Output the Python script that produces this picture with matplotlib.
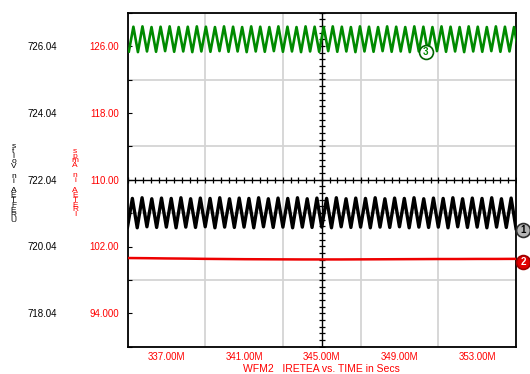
import matplotlib
matplotlib.use('Agg')
import matplotlib.pyplot as plt
import numpy as np

plt.rcParams['font.family'] = ['Liberation Sans', 'DejaVu Sans']

# ---------------- data ----------------
x_range = [335.0, 355.0]
x_ticks = [337, 341, 345, 349, 353]
x_tick_labels = ['337.00M', '341.00M', '345.00M', '349.00M', '353.00M']

volt_range = [717.04, 727.04]
volt_ticks = [718.04, 720.04, 722.04, 724.04, 726.04]
volt_labels = ['718.04', '720.04', '722.04', '724.04', '726.04']

amp_range = [90.0, 130.0]
amp_ticks = [94, 102, 110, 118, 126]
amp_labels = ['94.000', '102.00', '110.00', '118.00', '126.00']

# trace 1 (UREFTEA, volts): alternating trough / peak samples
black_values = [
    720.62, 721.48, 720.60, 721.50, 720.63, 721.47, 720.61, 721.49, 720.62, 721.48,
    720.60, 721.50, 720.62, 721.47, 720.61, 721.49, 720.63, 721.48, 720.60, 721.50,
    720.62, 721.47, 720.61, 721.49, 720.62, 721.48, 720.60, 721.50, 720.63, 721.47,
    720.61, 721.49, 720.62, 721.48, 720.60, 721.50, 720.62, 721.47, 720.61, 721.49,
    720.62, 721.48, 720.60, 721.50, 720.63, 721.47, 720.61, 721.49, 720.62, 721.48,
    720.60, 721.50, 720.62, 721.47, 720.61, 721.49, 720.63, 721.48, 720.60, 721.50,
    720.62, 721.47, 720.61, 721.49, 720.62, 721.48, 720.60, 721.50, 720.63, 721.47,
    720.61, 721.49, 720.62, 721.48, 720.60, 721.50, 720.62, 721.47, 720.61, 721.49,
    720.58]
black_t_span = [335.0, 355.0]

# trace 3 (volts): alternating trough / peak samples
green_values = [
    725.88, 726.62, 725.86, 726.63, 725.88, 726.61, 725.87, 726.62, 725.89, 726.63,
    725.87, 726.61, 725.88, 726.62, 725.86, 726.63, 725.88, 726.62, 725.87, 726.61,
    725.89, 726.63, 725.87, 726.62, 725.88, 726.61, 725.86, 726.63, 725.88, 726.62,
    725.87, 726.61, 725.89, 726.63, 725.87, 726.62, 725.88, 726.61, 725.86, 726.63,
    725.88, 726.62, 725.87, 726.61, 725.89, 726.63, 725.87, 726.62, 725.88, 726.61,
    725.86, 726.63, 725.88, 726.62, 725.87, 726.61, 725.89, 726.63, 725.87, 726.62,
    725.88, 726.61, 725.86, 726.63, 725.88, 726.62, 725.87, 726.61, 725.89, 726.63,
    725.87, 726.62, 725.88, 726.61, 725.86, 726.63, 725.88, 726.62, 725.87, 726.61,
    725.89, 726.63, 725.87, 726.62, 725.88, 726.61, 725.87]
green_t_span = [335.07, 355.13]

# trace 2 (IRETEA, amps)
red_values = [100.62, 100.60, 100.57, 100.55, 100.52, 100.50, 100.48, 100.47, 100.46, 100.45,
              100.45, 100.45, 100.46, 100.47, 100.48, 100.49, 100.50, 100.50, 100.51, 100.51,
              100.52]
red_t_span = [335.0, 355.0]

marker_labels = ['1', '2', '3']
marker_x = [355.36, 355.36, 350.36]
marker_y = [720.53, 719.59, 725.87]

title_text = 'WFM2   IRETEA vs. TIME in Secs'
left_label = 'UREFTEA in Volts'
mid_label = 'IRETEA in Amps'

# ---------------- figure ----------------
W, H = 530, 374
fig = plt.figure(figsize=(W / 100, H / 100), dpi=100)
ax = fig.add_axes([127.5 / W, 1 - 346.7 / H, (516 - 127.5) / W, (346.7 - 12.7) / H])
ax.set_xlim(*x_range)
ax.set_ylim(*volt_range)

grid_c = '#d4d4d4'
ax.set_xticks(np.arange(x_range[0], x_range[1] + 0.01, 2.0), minor=True)
ax.set_yticks(np.arange(volt_range[0], volt_range[1] + 0.01, 1.0), minor=True)
ax.grid(which='minor', color=grid_c, lw=1.3)
ax.grid(which='major', visible=False)
ax.set_axisbelow(True)

ax.set_xticks(x_ticks)
ax.set_xticklabels(x_tick_labels, color='red', fontsize=7)
ax.tick_params(axis='x', which='both', length=0, pad=4)

ax.set_yticks(volt_ticks)
ax.set_yticklabels(volt_labels, color='black', fontsize=7)
ax.tick_params(axis='y', which='both', direction='in', length=3, width=0.8, pad=50.5, color='black')

for s in ax.spines.values():
    s.set_color('black')
    s.set_linewidth(1.3)

# center crosshair with small ticks
xc = 345.0
yc = 722.04
ax.axvline(xc, color='black', lw=1.0, zorder=2)
ax.axhline(yc, color='black', lw=1.0, zorder=2)
ty = np.arange(volt_range[0], volt_range[1] + 0.001, 0.2)
tx = np.arange(x_range[0], x_range[1] + 0.001, 0.4)
ax.plot(np.full(len(ty), xc), ty, ls='none', marker='_', ms=4.5, mew=0.9, color='black', zorder=2)
ax.plot(tx, np.full(len(tx), yc), ls='none', marker='|', ms=4.5, mew=0.9, color='black', zorder=2)

# traces
bt = np.linspace(black_t_span[0], black_t_span[1], len(black_values))
ax.plot(bt, black_values, color='black', lw=2.4, solid_joinstyle='round', zorder=4)
gt = np.linspace(green_t_span[0], green_t_span[1], len(green_values))
ax.plot(gt, green_values, color='#008a00', lw=1.9, zorder=4)

ax2 = ax.twinx()
ax2.set_ylim(*amp_range)
ax2.yaxis.set_ticks_position('left')
ax2.set_yticks(amp_ticks)
ax2.set_yticklabels(amp_labels, color='red', fontsize=7)
ax2.tick_params(axis='y', length=0, pad=6.3)
for s in ax2.spines.values():
    s.set_visible(False)
rt = np.linspace(red_t_span[0], red_t_span[1], len(red_values))
ax2.plot(rt, red_values, color='#ee0000', lw=1.8, zorder=4)

# numbered markers
styles = [
    dict(mfc='#b4b4b4', mec='#303030', tc='black'),
    dict(mfc='#e00000', mec='#a00000', tc='white'),
    dict(mfc='white', mec='#006400', tc='#008a00'),
]
for lab, mx, my, st in zip(marker_labels, marker_x, marker_y, styles):
    ax.plot([mx], [my], marker='o', ms=10, mfc=st['mfc'], mec=st['mec'], mew=1.2,
            clip_on=False, zorder=6)
    ax.text(mx, my, lab, ha='center', va='center', fontsize=7, fontweight='bold',
            color=st['tc'], clip_on=False, zorder=7)

# x label
ax.set_xlabel(title_text, color='red', fontsize=7.5, labelpad=1)

# stacked vertical axis labels (characters stacked bottom-to-top)
def stacked(label, xpx, ycpx, color):
    chars = list(label)[::-1]
    txt = '\n'.join(chars)
    fig.text(xpx / W, 1 - ycpx / H, txt, ha='center', va='center', fontsize=6,
             color=color, linespacing=0.58, multialignment='center')

stacked(left_label, 13.5, 183.5, 'black')
stacked(mid_label, 75.0, 183.0, 'red')

fig.savefig('out.png', dpi=100)
